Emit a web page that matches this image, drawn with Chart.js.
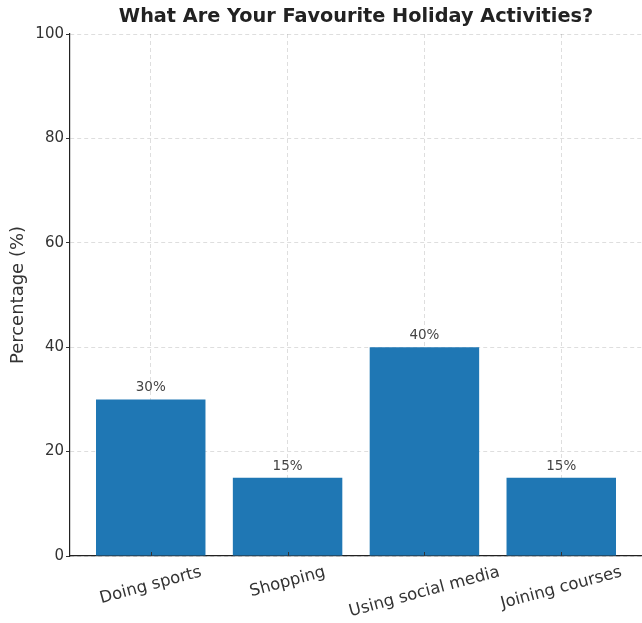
<!DOCTYPE html>
<html>
<head>
<meta charset="utf-8">
<script src="https://cdn.jsdelivr.net/npm/chart.js@4.4.1/dist/chart.umd.min.js"></script>
<style>
  html, body { margin: 0; padding: 0; background: #fff; }
  #wrap { width: 642px; height: 623px; }
</style>
</head>
<body>
<div id="wrap"><canvas id="chart" width="642" height="623"></canvas></div>
<script>
const chartTitle = "What Are Your Favourite Holiday Activities?";
const activities = ["Doing sports", "Shopping", "Using social media", "Joining courses"];
const percentages = [30, 15, 40, 15];
const yTicks = [0, 20, 40, 60, 80, 100];

const FONT = "'DejaVu Sans', sans-serif";
const BAR_BLUE = "#1f77b4";
const INK = "#333";

// title, value labels and rotated category labels
const annotate = {
  id: "annotate",
  afterDraw(chart) {
    const { ctx, chartArea } = chart;
    const xs = chart.scales.x;
    const ys = chart.scales.y;
    ctx.save();

    ctx.fillStyle = "#222";
    ctx.font = "bold 19.3px " + FONT;
    ctx.textAlign = "center";
    ctx.textBaseline = "middle";
    ctx.fillText(chartTitle, (chartArea.left + chartArea.right) / 2, 17);

    ctx.font = "13.5px " + FONT;
    ctx.fillStyle = "#444";
    ctx.textBaseline = "alphabetic";
    percentages.forEach((v, i) => {
      ctx.fillText(v + "%", xs.getPixelForValue(i), ys.getPixelForValue(v) - 8);
    });

    // category labels turned 15 degrees, box centred under the tick
    const rot = 15 * Math.PI / 180;
    const size = 16.5;
    ctx.font = size + "px " + FONT;
    ctx.fillStyle = INK;
    ctx.textBaseline = "middle";
    activities.forEach((name, i) => {
      const w = ctx.measureText(name).width;
      const boxH = w * Math.sin(rot) + size * Math.cos(rot);
      const cx = xs.getPixelForValue(i);
      const cy = chartArea.bottom + 8 + boxH / 2;
      ctx.save();
      ctx.translate(cx, cy);
      ctx.rotate(-rot);
      ctx.fillText(name, 0, 0);
      ctx.restore();
    });

    // short tick marks rising from the bottom spine
    ctx.strokeStyle = "#333";
    ctx.lineWidth = 1;
    activities.forEach((_, i) => {
      const x = Math.round(xs.getPixelForValue(i)) + 0.5;
      ctx.beginPath();
      ctx.moveTo(x, chartArea.bottom);
      ctx.lineTo(x, chartArea.bottom - 4);
      ctx.stroke();
    });

    ctx.restore();
  }
};

new Chart(document.getElementById("chart"), {
  type: "bar",
  data: {
    datasets: [{
      data: activities.map((_, i) => ({ x: i, y: percentages[i] })),
      backgroundColor: BAR_BLUE,
      borderWidth: 0,
      categoryPercentage: 1,
      barPercentage: 0.8
    }]
  },
  options: {
    responsive: false,
    animation: false,
    layout: { padding: { top: 34, right: 0, bottom: 0, left: 0 } },
    plugins: { legend: { display: false }, tooltip: { enabled: false }, title: { display: false } },
    scales: {
      x: {
        type: "linear",
        min: -0.59,
        max: 3.59,
        offset: false,
        z: 1,
        afterBuildTicks: (s) => { s.ticks = activities.map((_, i) => ({ value: i })); },
        afterFit: (s) => { s.height = 67; },
        ticks: { display: false },
        grid: { color: "rgba(0,0,0,0.13)", offset: false, drawTicks: false },
        border: { display: true, color: "#222", width: 1.2, dash: [4, 3] }
      },
      y: {
        min: 0,
        max: 100,
        z: 1,
        afterBuildTicks: (s) => { s.ticks = yTicks.map((v) => ({ value: v })); },
        afterFit: (s) => { s.width = 70; },
        ticks: { color: INK, font: { family: FONT, size: 15 }, padding: 2 },
        grid: { color: "rgba(0,0,0,0.13)", tickColor: "#333", tickLength: 4 },
        border: { display: true, color: "#222", width: 1.2, dash: [4, 3] },
        title: {
          display: true,
          text: "Percentage (%)",
          color: INK,
          font: { family: FONT, size: 18 },
          padding: { top: 8, bottom: 0 }
        }
      }
    }
  },
  plugins: [annotate]
});
</script>
</body>
</html>
